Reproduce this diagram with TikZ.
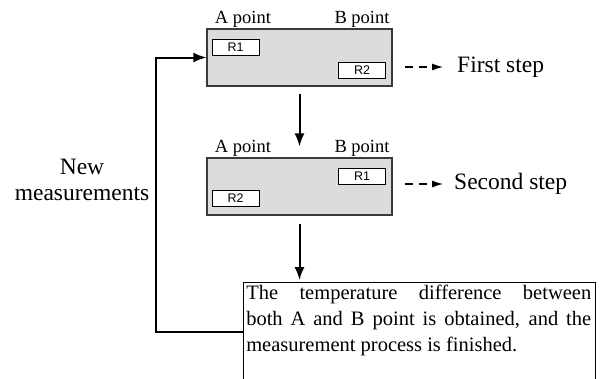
\documentclass[tikz,border=0pt]{standalone}
\usepackage{fontspec}
\setmainfont{Liberation Serif}
\newfontfamily\rfont{Liberation Sans}
\usetikzlibrary{arrows.meta}
\definecolor{boxfill}{HTML}{DCDCDC}
\definecolor{boxline}{HTML}{3A3A3A}
\begin{document}
\begin{tikzpicture}[x=1pt,y=-1pt,
  panel/.style={draw=boxline,line width=1.1pt,fill=boxfill,minimum width=185pt,minimum height=57pt,inner sep=0pt},
  rbox/.style={draw=black,line width=0.9pt,fill=white,minimum width=47pt,minimum height=16pt,inner sep=0pt,font=\rfont\fontsize{12.5}{13}\selectfont},
  ptlabel/.style={font=\fontsize{18.5}{20}\selectfont,inner sep=0pt,anchor=base},
  steplabel/.style={font=\fontsize{23.5}{26}\selectfont,inner sep=0pt,anchor=west},
  arr/.style={line width=2pt,-{Latex[length=13pt,width=10pt]}},
  dasharr/.style={line width=1.1pt,dash pattern=on 8pt off 6pt,-{Latex[length=11pt,width=7pt]}}]
\useasboundingbox (0,0) rectangle (603,378);
% panels
\node[panel] (box1) at (299.5,57.5) {};
\node[panel] (box2) at (299.5,186.5) {};
\node[rbox] (b1r1) at (235.5,47.5) {R1};
\node[rbox] (b1r2) at (362,70.5) {R2};
\node[rbox] (b2r1) at (362,176.5) {R1};
\node[rbox] (b2r2) at (235.5,198) {R2};
\node[ptlabel] (a1) at (243,23) {A point};
\node[ptlabel] (bb1) at (362,23) {B point};
\node[ptlabel] (a2) at (243,152.7) {A point};
\node[ptlabel] (bb2) at (362,152.7) {B point};
% step labels
\node[steplabel] (step1) at (457,67) {First step};
\node[steplabel] (step2) at (454,184) {Second step};
\coordinate (d1) at (405,67);
\coordinate (d2) at (405,184);
\draw[dasharr] (d1) -- ([xshift=-14pt]step1.west);
\draw[dasharr] (d2) -- ([xshift=-11pt]step2.west);
% bottom box
\node[draw=black,line width=0.9pt,minimum width=352pt,minimum height=100pt,inner sep=0pt] (box3) at (419,332) {};
\node[anchor=north west,text width=345pt,align=justify,inner xsep=3.5pt,inner ysep=3pt,
  font=\fontsize{20.5}{26}\selectfont] (box3txt) at (box3.north west)
  {\hyphenpenalty=10000 The temperature difference between\linebreak both A and B point is obtained, and the\linebreak measurement process is finished.};
% arrows
\draw[arr] ([yshift=-7pt]box1.south) -- ([yshift=11pt]box2.north);
\coordinate (c3) at (box2.south |- box3.north);
\draw[arr] ([yshift=-8pt]box2.south) -- ([yshift=1.5pt]c3);
\coordinate (lc) at (156,332);
\draw[arr] (box3.west) -- (lc) |- (box1.west);
% left label
\node[font=\fontsize{23.5}{26}\selectfont,align=center,inner sep=0pt] (newm) at (82,180) {New\\measurements};
\end{tikzpicture}
\end{document}
